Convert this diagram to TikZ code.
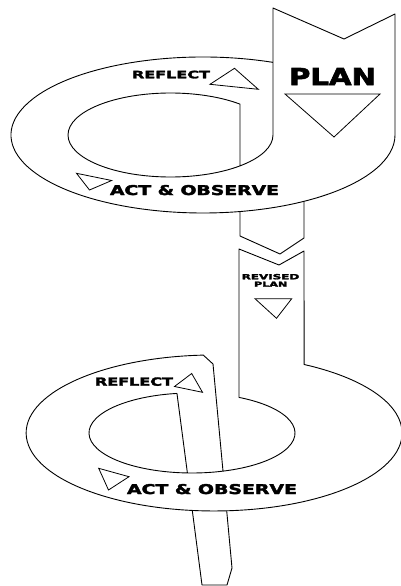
\documentclass[tikz,border=0pt]{standalone}
\usepackage{fontspec,graphicx}
\newfontfamily\heavy{DejaVu Sans}[BoldFeatures={FakeBold=2.5}]
\tikzset{
  outline/.style={draw=black, line width=0.9pt, line join=round},
  pointer/.style={draw=black, line width=0.8pt, line join=miter},
  word/.style={anchor=base, inner sep=0pt},
}
\newcommand{\fitword}[3]{\resizebox{#1pt}{#2pt}{\heavy\bfseries #3}}

\begin{document}
\begin{tikzpicture}[x=1pt, y=-1pt]
  \useasboundingbox (0,0) rectangle (401,586);
  % upper loop: plan band runs into the rim
  \coordinate (upout) at (203,135);
  \draw[outline] (upout) ++(-68.6:192 and 78)
    arc[start angle=-68.6, end angle=-360, x radius=192, y radius=78]
    -- (395,14) -- (344,39) -- (273,8) -- (273,135)
    arc[start angle=0, end angle=312.7, x radius=102.5, y radius=42]
    -- (240,165.9);
  \draw[outline] (240,211.5) -- (240,236) -- (280,254) -- (304,238) -- (304,201.3);
  % lower loop: revised band runs into the rim
  \draw[outline] (223,471.1) -- (213,364) -- (203.3,355.1)
    arc[start angle=266.7, end angle=-61.4, x radius=188, y radius=78]
    -- (304,251) -- (279,265) -- (239,249) -- (239,397.4)
    arc[start angle=-62.85, end angle=261.6, x radius=103, y radius=40]
    -- (187.4,473);
  \draw[outline] (192.3,510.5) -- (202,585) -- (227,585) -- (232,568) -- (226.7,510.8);
  % pointers
  \draw[pointer] (285,94) -- (380,94) -- (334,137) -- cycle;
  \draw[pointer] (210,84.3) -- (234.5,68.3) -- (258.3,89.3) -- cycle;
  \draw[pointer] (76.5,173.3) -- (111.7,180.5) -- (89.5,190) -- cycle;
  \draw[pointer] (255,298.7) -- (291.7,298.7) -- (276.5,318.3) -- cycle;
  \draw[pointer] (174.5,386.5) -- (191.7,373.5) -- (202.5,392.3) -- cycle;
  \draw[pointer] (98.7,468.3) -- (129,476.7) -- (108.5,490) -- cycle;
  % labels
  \node[word] (plan) at (332.5,85) {\fitword{87}{17}{PLAN}};
  \node[word] (reflecttop) at (171,78.3) {\fitword{78}{7.6}{REFLECT}};
  \node[word] (acttop) at (194.5,195) {\fitword{169}{10}{ACT \& OBSERVE}};
  \node[word] (revised) at (270.5,279.3) {\fitword{57.6}{5.3}{REVISED}};
  \node[word] (revplan) at (270.7,286.7) {\fitword{33.3}{5}{PLAN}};
  \node[word] (reflectlow) at (134,385.7) {\fitword{78}{8.3}{REFLECT}};
  \node[word] (actlow) at (212,494) {\fitword{170}{10}{ACT \& OBSERVE}};
\end{tikzpicture}
\end{document}
